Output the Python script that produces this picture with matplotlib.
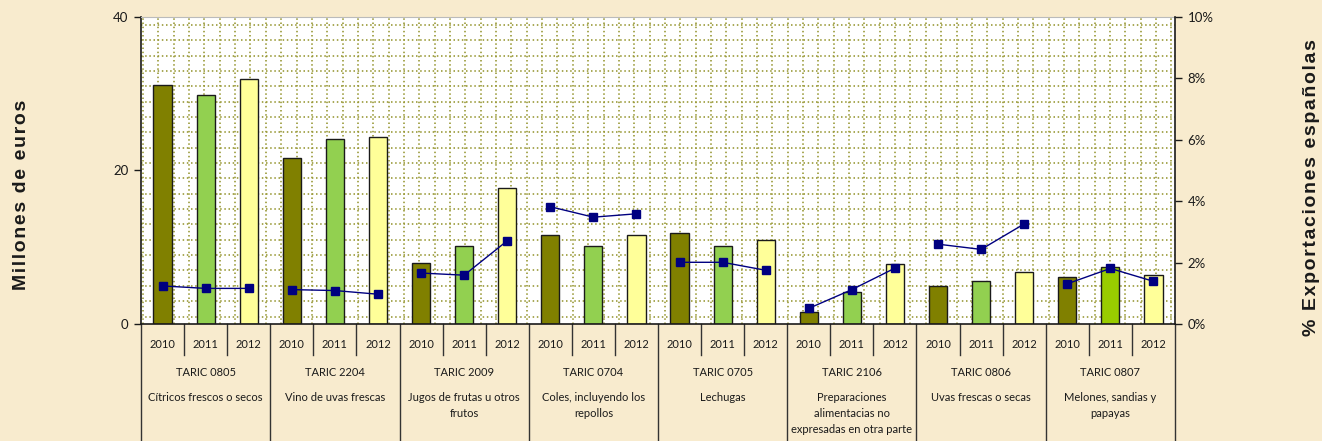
"""
Exportaciones por partida TARIC: barras (millones de euros) y % sobre exportaciones espanolas.
"""
import numpy as np
import matplotlib.pyplot as plt

years = ['2010', '2011', '2012']
taric = ['TARIC 0805', 'TARIC 2204', 'TARIC 2009', 'TARIC 0704',
         'TARIC 0705', 'TARIC 2106', 'TARIC 0806', 'TARIC 0807']
descr = ['Cítricos frescos o secos',
         'Vino de uvas frescas',
         'Jugos de frutas u otros\nfrutos',
         'Coles, incluyendo los\nrepollos',
         'Lechugas',
         'Preparaciones\nalimentacias no\nexpresadas en otra parte',
         'Uvas frescas o secas',
         'Melones, sandias y\npapayas']

# millones de euros, one row per TARIC group (2010, 2011, 2012)
millones = [[31.1, 29.9, 31.9],
            [21.6, 24.1, 24.4],
            [7.9, 10.1, 17.7],
            [11.6, 10.1, 11.6],
            [11.8, 10.1, 10.9],
            [1.6, 4.2, 7.8],
            [5.0, 5.6, 6.8],
            [6.1, 7.4, 6.4]]

# % of spanish exports
pct = [[1.24, 1.16, 1.16],
       [1.12, 1.09, 0.97],
       [1.66, 1.59, 2.71],
       [3.82, 3.48, 3.59],
       [2.01, 2.01, 1.75],
       [0.51, 1.12, 1.82],
       [2.60, 2.43, 3.26],
       [1.31, 1.81, 1.39]]

year_colors = ['#808000', '#92D050', '#FFFF99']
bg = '#F8EBCE'
grid_col = '#9A9A38'
small_font = 'Lato'


def spaced(s):
    # rough letter spacing with hair spaces
    return '\u200a'.join(s)


fig = plt.figure(figsize=(13.22, 4.41), dpi=100, facecolor=bg)
W, H = 1322, 441
x0, x1, ytop, ybot = 141, 1175, 17, 324
ax = fig.add_axes([x0 / W, (H - ybot) / H, (x1 - x0) / W, (ybot - ytop) / H])
ax.set_facecolor('white')

ngroups = len(taric)
nslots = ngroups * 3
ax.set_xlim(-0.5, nslots - 0.5)
ax.set_ylim(0, 40)

# dotted pattern fill of the plot area
slot_px = (x1 - x0) / nslots
step_px = 15.35
for xp in np.arange(2, x1 - x0, step_px):
    ax.axvline(-0.5 + xp / slot_px, color=grid_col, lw=1.2, ls=(0, (0.9, 1.6)), zorder=0.5)
ypx = (ybot - ytop) / 40
for yp in np.arange(7.5, ybot - ytop - 5, step_px):
    ax.axhline(yp / ypx, color=grid_col, lw=1.2, ls=(0, (0.9, 1.6)), zorder=0.5)

for g in range(ngroups):
    for k in range(3):
        col = year_colors[k]
        if g == ngroups - 1 and k == 1:
            col = '#99CC00'
        ax.bar(g * 3 + k, millones[g][k], width=0.42, color=col,
               edgecolor='#1a1a1a', linewidth=1.0, zorder=2)

ax.set_yticks([0, 20, 40])
ax.tick_params(axis='y', direction='out', length=5, labelsize=9.5, width=1,
               colors='#1a1a1a', pad=4)
for lab in ax.get_yticklabels():
    lab.set_family(small_font)
ax.set_xticks([])
for s in ['left', 'bottom']:
    ax.spines[s].set_color('#1a1a1a')
    ax.spines[s].set_linewidth(1.2)
ax.spines['top'].set_color('#BBBBBB')
ax.spines['right'].set_visible(False)

ax2 = ax.twinx()
ax2.set_ylim(0, 10)
ax2.set_yticks(np.arange(0, 11, 2))
ax2.set_yticklabels([f'{v}%' for v in range(0, 11, 2)], family=small_font)
ax2.tick_params(axis='y', direction='out', length=5, labelsize=9.5, width=1,
                colors='#1a1a1a', pad=4)
for s in ['left', 'bottom', 'top']:
    ax2.spines[s].set_visible(False)
ax2.spines['right'].set_color('#1a1a1a')
ax2.spines['right'].set_linewidth(1.2)
for g in range(ngroups):
    ax2.plot([g * 3 + k for k in range(3)], pct[g], color='#000080', lw=1.0,
             marker='s', markersize=5.5, markerfacecolor='#000080',
             markeredgecolor='#000080', zorder=3)

# multi-level category axis
axh = ybot - ytop
tr = ax.get_xaxis_transform()
yr_line = -(355 - ybot) / axh
bottom = -(H - ybot) / axh - 0.01
for g in range(ngroups + 1):
    ax.plot([-0.5 + 3 * g] * 2, [0, bottom], transform=tr, clip_on=False,
            color='#333333', lw=1.0)
for g in range(ngroups):
    for k in (1, 2):
        ax.plot([-0.5 + 3 * g + k] * 2, [0, yr_line], transform=tr, clip_on=False,
                color='#333333', lw=1.0)
    for k in range(3):
        ax.text(g * 3 + k, -(344 - ybot) / axh, years[k], transform=tr,
                ha='center', va='center', fontsize=8, family=small_font, color='#1a1a1a')
    ax.text(g * 3 + 1, -(373 - ybot) / axh, taric[g], transform=tr,
            ha='center', va='center', fontsize=8, family=small_font, color='#1a1a1a')
    ax.text(g * 3 + 1, -(392 - ybot) / axh, descr[g], transform=tr,
            ha='center', va='top', fontsize=8, family=small_font, color='#1a1a1a',
            linespacing=1.55)

label_fonts = ['Liberation Sans', 'DejaVu Sans']
fig.text(22 / W, 1 - 195 / H, spaced('Millones de euros'), rotation=90, ha='center',
         va='center', fontsize=14, fontweight='bold', family=label_fonts,
         color='#1a1a1a')
fig.text(1311 / W, 1 - 188 / H, spaced('% Exportaciones españolas'), rotation=90,
         ha='center', va='center', fontsize=14, fontweight='bold',
         family=label_fonts, color='#1a1a1a')

plt.savefig('out.png', dpi=100, facecolor=bg)
